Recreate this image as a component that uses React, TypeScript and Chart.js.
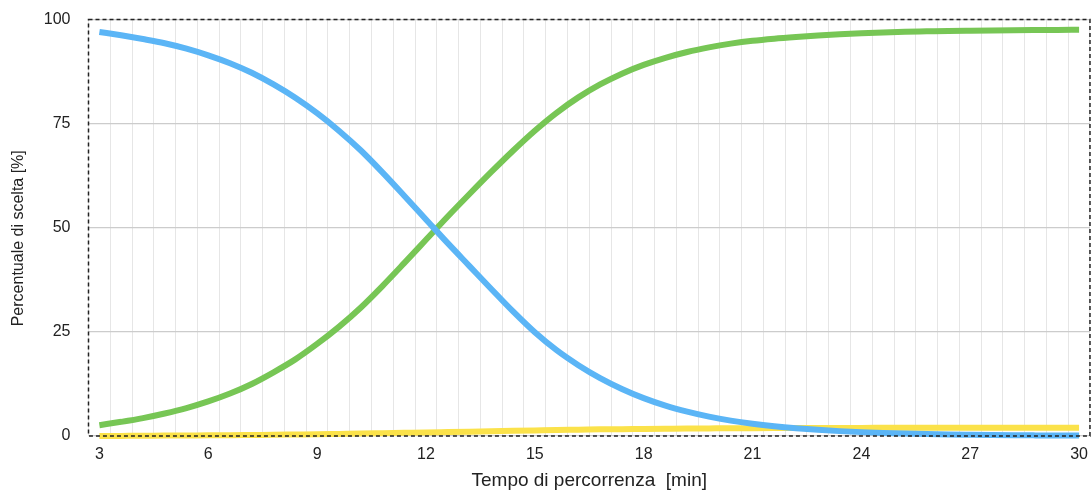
import React, { useEffect, useRef } from "react";
import { Chart, registerables } from "chart.js";

Chart.register(...registerables);

const categories: string[] = [
  "3", "3.6", "4.2", "4.8", "5.4", "6", "6.6", "7.2", "7.8", "8.4",
  "9", "9.6", "10.2", "10.8", "11.4", "12", "12.6", "13.2", "13.8", "14.4",
  "15", "15.6", "16.2", "16.8", "17.4", "18", "18.6", "19.2", "19.8", "20.4",
  "21", "21.6", "22.2", "22.8", "23.4", "24", "24.6", "25.2", "25.8", "26.4",
  "27", "27.6", "28.2", "28.8", "29.4", "30",
];

const tickLabels: string[] = ["3", "6", "9", "12", "15", "18", "21", "24", "27", "30"];

const blueSeries: number[] = [
  97.0, 96.2, 95.3, 94.3, 93.0, 91.4, 89.5, 87.2, 84.4, 81.2,
  77.5, 73.3, 68.6, 63.3, 57.7, 52.0, 46.3, 40.8, 35.3, 29.9,
  24.9, 20.6, 17.0, 13.9, 11.3, 9.1, 7.3, 5.85, 4.65, 3.7,
  2.95, 2.35, 1.87, 1.48, 1.17, 0.93, 0.74, 0.59, 0.47, 0.37,
  0.3, 0.24, 0.19, 0.15, 0.12, 0.1,
];

const greenSeries: number[] = [
  2.6, 3.4, 4.3, 5.4, 6.7, 8.3, 10.2, 12.5, 15.3, 18.4,
  22.1, 26.2, 30.8, 36.0, 41.5, 47.1, 52.7, 58.1, 63.4, 68.5,
  73.3, 77.6, 81.3, 84.4, 87.0, 89.1, 90.8, 92.2, 93.3, 94.2,
  94.9, 95.4, 95.8, 96.15, 96.45, 96.7, 96.9, 97.05, 97.15, 97.25,
  97.32, 97.38, 97.43, 97.47, 97.5, 97.52,
];

const yellowSeries: number[] = [
  0.0, 0.03, 0.06, 0.1, 0.13, 0.17, 0.2, 0.25, 0.3, 0.36,
  0.42, 0.5, 0.58, 0.67, 0.76, 0.85, 0.95, 1.05, 1.15, 1.25,
  1.35, 1.45, 1.52, 1.6, 1.65, 1.7, 1.75, 1.8, 1.83, 1.86,
  1.88, 1.9, 1.92, 1.93, 1.94, 1.95, 1.96, 1.96, 1.97, 1.97,
  1.98, 1.98, 1.99, 1.99, 2.0, 2.0,
];

const xTitle = "Tempo di percorrenza  [min]";
const yTitle = "Percentuale di scelta [%]";

const FONT = "'Liberation Sans', Arial, Helvetica, sans-serif";

const dashedBorder = {
  id: "dashedBorder",
  afterDraw(chart: any) {
    const { ctx, chartArea } = chart;
    ctx.save();
    ctx.strokeStyle = "#222";
    ctx.lineWidth = 1.5;
    ctx.setLineDash([4, 3]);
    ctx.strokeRect(chartArea.left, chartArea.top, chartArea.right - chartArea.left, chartArea.bottom - chartArea.top);
    ctx.restore();
  },
};

const yTitlePlugin = {
  id: "yTitlePlugin",
  afterDraw(chart: any) {
    const { ctx, chartArea } = chart;
    ctx.save();
    ctx.translate(18.5, (chartArea.top + chartArea.bottom) / 2 + 10.5);
    ctx.rotate(-Math.PI / 2);
    ctx.font = `16px ${FONT}`;
    ctx.fillStyle = "#222";
    ctx.textAlign = "center";
    ctx.textBaseline = "middle";
    ctx.fillText(yTitle, 0, 0);
    ctx.restore();
  },
};

export default function App() {
  const ref = useRef<HTMLCanvasElement | null>(null);

  useEffect(() => {
    if (!ref.current) return;
    const line = (label: string, data: number[], color: string) => ({
      label,
      data,
      borderColor: color,
      backgroundColor: color,
      borderWidth: 6,
      pointRadius: 0,
      pointHoverRadius: 0,
      fill: false,
      cubicInterpolationMode: "monotone" as const,
      clip: 8,
    });
    const chart = new Chart(ref.current, {
      type: "line",
      data: {
        labels: categories,
        datasets: [
          line("Blu", blueSeries, "#5BB5F6"),
          line("Verde", greenSeries, "#77C655"),
          line("Giallo", yellowSeries, "#FBE24A"),
        ],
      },
      plugins: [dashedBorder, yTitlePlugin],
      options: {
        animation: false,
        responsive: true,
        maintainAspectRatio: false,
        layout: { padding: { top: 19.5, right: 1, left: 0, bottom: 0 } },
        plugins: { legend: { display: false }, tooltip: { enabled: false } },
        scales: {
          x: {
            type: "category",
            offset: true,
            grid: {
              offset: true,
              color: "#e6e6e6",
              lineWidth: 1,
              drawTicks: true,
              tickLength: 6,
              tickColor: "rgba(0,0,0,0)",
            },
            border: { display: false },
            ticks: {
              autoSkip: false,
              maxRotation: 0,
              padding: 3,
              color: "#222",
              font: { family: FONT, size: 16 },
              callback: function (this: any, _v: any, i: number) {
                const l = categories[i];
                return tickLabels.includes(l) ? l : "";
              },
            },
            title: {
              display: true,
              text: xTitle,
              color: "#222",
              font: { family: FONT, size: 19 },
              padding: { top: 0, bottom: 3 },
            },
            afterFit(scale: any) {
              scale.height = 59;
            },
          },
          y: {
            min: 0,
            max: 100,
            ticks: {
              stepSize: 25,
              padding: 9,
              color: "#222",
              font: { family: FONT, size: 16 },
            },
            grid: {
              color: "#cccccc",
              lineWidth: 1.2,
              drawTicks: true,
              tickLength: 9,
              tickColor: "rgba(0,0,0,0)",
            },
            border: { display: false },
            title: { display: false, text: yTitle },
            afterFit(scale: any) {
              scale.width = 88.5;
            },
          },
        },
      },
    });
    return () => chart.destroy();
  }, []);

  return (
    <div style={{ position: "absolute", left: 0, top: 0, width: 1091, height: 495 }}>
      <canvas ref={ref} />
    </div>
  );
}
